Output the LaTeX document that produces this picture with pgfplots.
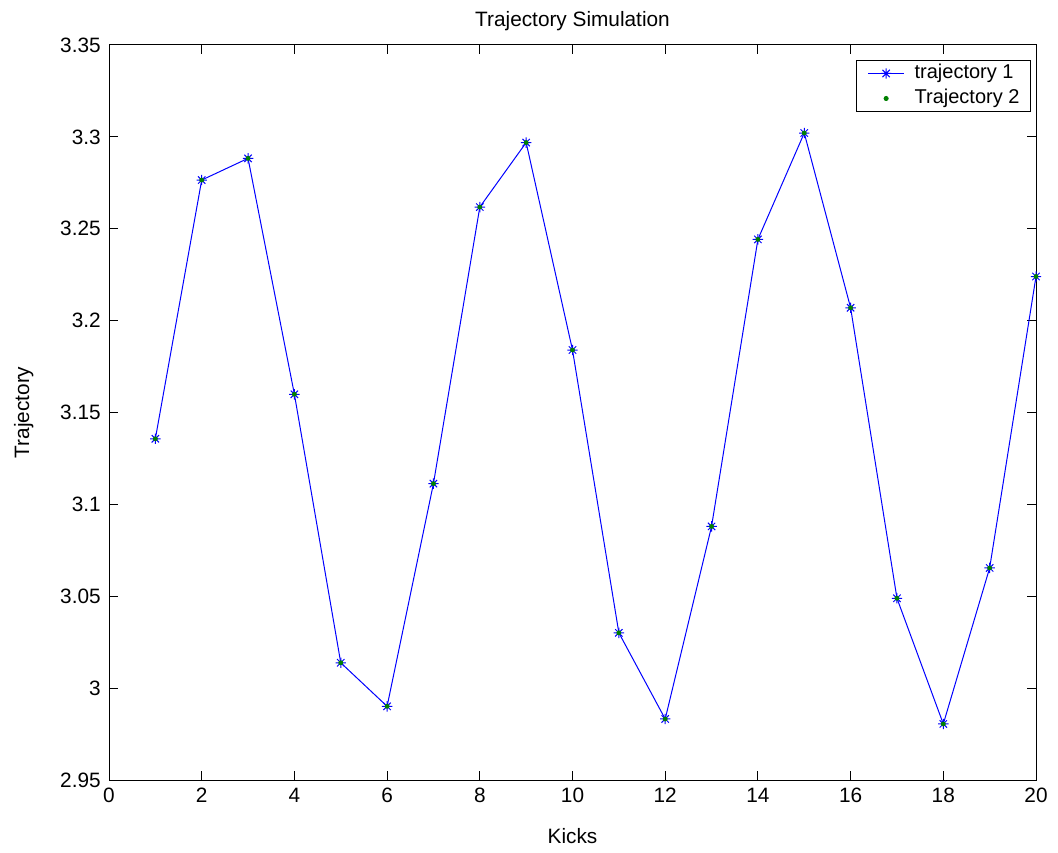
\documentclass[border=0pt]{standalone}
\usepackage{fontspec}
\setmainfont{Liberation Sans}
\usepackage{pgfplots}
\pgfplotsset{compat=1.18}
\definecolor{mblue}{rgb}{0,0,1}
\definecolor{mgreen}{rgb}{0,0.5,0}
\pgfdeclareplotmark{mstar}{%
  \pgfpathmoveto{\pgfqpoint{-\pgfplotmarksize}{0pt}}%
  \pgfpathlineto{\pgfqpoint{\pgfplotmarksize}{0pt}}%
  \pgfpathmoveto{\pgfqpoint{0pt}{-\pgfplotmarksize}}%
  \pgfpathlineto{\pgfqpoint{0pt}{\pgfplotmarksize}}%
  \pgfpathmoveto{\pgfqpoint{-0.707\pgfplotmarksize}{-0.707\pgfplotmarksize}}%
  \pgfpathlineto{\pgfqpoint{0.707\pgfplotmarksize}{0.707\pgfplotmarksize}}%
  \pgfpathmoveto{\pgfqpoint{-0.707\pgfplotmarksize}{0.707\pgfplotmarksize}}%
  \pgfpathlineto{\pgfqpoint{0.707\pgfplotmarksize}{-0.707\pgfplotmarksize}}%
  \pgfusepathqstroke}
\pgfplotsset{
  mleg line/.style={legend image code/.code={\draw[##1, mark repeat=2, mark phase=2] plot coordinates {(0bp,0bp) (9bp,0bp) (18bp,0bp)};}},
  mleg dot/.style={legend image code/.code={\draw[##1] plot coordinates {(9bp,0bp)};}},
}
\newcommand{\chartfont}{\fontsize{10.4bp}{12bp}\selectfont}
\newcommand{\legfont}{\fontsize{10bp}{12bp}\selectfont}
\begin{document}
\chartfont
\begin{tikzpicture}
\useasboundingbox (0,0) rectangle (529bp,426.5bp);
\begin{axis}[
  at={(54.5bp,36.5bp)}, anchor=south west,
  scale only axis, width=463.5bp, height=367.5bp,
  xmin=0, xmax=20, ymin=2.95, ymax=3.35,
  xtick={0,2,...,20},
  ytick={2.95,3,3.05,3.1,3.15,3.2,3.25,3.3,3.35},
  yticklabels={2.95,3,3.05,3.1,3.15,3.2,3.25,3.3,3.35},
  tick align=inside, tick pos=both,
  major tick length=4.5bp,
  axis line style={line width=0.5bp},
  every tick/.style={line width=0.5bp, black},
  /pgf/number format/assume math mode=true,
  tick label style={font=\chartfont},
  xticklabel style={yshift=-0.5bp},
  yticklabel style={xshift=-0.5bp},
  label style={font=\chartfont},
  title={Trajectory Simulation},
  title style={at={(0.5,1)}, anchor=base, yshift=3.5bp, font=\chartfont},
  xlabel={Kicks},
  xlabel style={at={(0.5,0)}, anchor=base, yshift=-32bp},
  ylabel={Trajectory},
  ylabel style={at={(0,0.5)}, anchor=base, xshift=0bp, yshift=40bp},
  legend style={at={(0.9946,0.9796)}, anchor=north east, draw=black, line width=0.5bp,
    font=\legfont, inner xsep=5.5bp, inner ysep=2bp, row sep=3.5bp, column sep=5bp,
    nodes={inner sep=0pt, text height=7bp, text depth=2bp},
    legend cell align=left},
]
\addplot[color=mblue, line width=0.5bp, mark=mstar, mark size=2.6bp, mark options={line width=0.5bp}, mleg line] coordinates {
(1,3.1357) (2,3.2765) (3,3.2883) (4,3.1599) (5,3.0138) (6,2.9901) (7,3.1113)
(8,3.2618) (9,3.2969) (10,3.1840) (11,3.0301) (12,2.9832) (13,3.0880) (14,3.2442)
(15,3.3021) (16,3.2070) (17,3.0489) (18,2.9805) (19,3.0654) (20,3.2240)
};
\addlegendentry{trajectory 1\hspace{1bp}}
\addplot[only marks, color=mgreen, mark=*, mark size=1bp, mleg dot] coordinates {
(1,3.1357) (2,3.2765) (3,3.2883) (4,3.1599) (5,3.0138) (6,2.9901) (7,3.1113)
(8,3.2618) (9,3.2969) (10,3.1840) (11,3.0301) (12,2.9832) (13,3.0880) (14,3.2442)
(15,3.3021) (16,3.2070) (17,3.0489) (18,2.9805) (19,3.0654) (20,3.2240)
};
\addlegendentry{Trajectory 2\hspace{1bp}}
\end{axis}
\end{tikzpicture}
\end{document}
